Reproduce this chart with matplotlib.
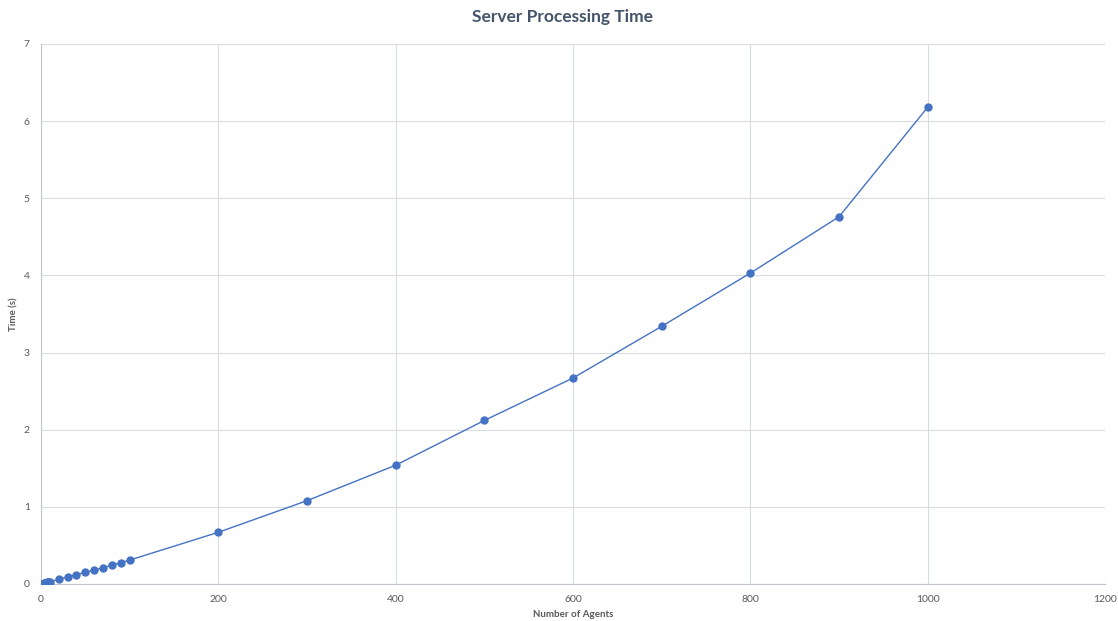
import matplotlib.pyplot as plt

plt.rcParams['font.family'] = ['Lato', 'DejaVu Sans']

# data
agents = [1, 2, 3, 4, 5, 6, 7, 8, 9, 10,
          20, 30, 40, 50, 60, 70, 80, 90, 100,
          200, 300, 400, 500, 600, 700, 800, 900, 1000]
times = [0.003, 0.006, 0.009, 0.012, 0.015, 0.018, 0.021, 0.024, 0.027, 0.03,
         0.06, 0.09, 0.12, 0.15, 0.18, 0.21, 0.245, 0.275, 0.31,
         0.67, 1.08, 1.54, 2.12, 2.67, 3.34, 4.03, 4.76, 6.18]

blue = "#4472C4"
grid_c = "#D9DDE3"
label_c = "#595959"

fig = plt.figure(figsize=(11.18, 6.21), dpi=100)
ax = fig.add_axes([0.0367, 0.0596, 0.9517, 0.8696])

ax.plot(agents, times, color=blue, linewidth=1.0, marker="o", markersize=5,
        markerfacecolor=blue, markeredgecolor=blue, zorder=3)

ax.set_xlim(0, 1200)
ax.set_ylim(0, 7)
ax.set_xticks(range(0, 1201, 200))
ax.set_yticks(range(0, 8))

ax.grid(True, color=grid_c, linewidth=0.8)
ax.set_axisbelow(True)
for side in ["top", "right"]:
    ax.spines[side].set_visible(False)
ax.spines["left"].set_color("#BFC5CE")
ax.spines["bottom"].set_color("#BFC5CE")
ax.tick_params(length=0, labelsize=7.5, labelcolor=label_c, pad=8)

fig.suptitle("Server Processing Time", x=0.503, y=0.985, fontsize=12.5,
             fontweight="bold", color="#44546A")
ax.set_xlabel("Number of Agents", fontsize=7, fontweight="bold", color=label_c, labelpad=4)
ax.set_ylabel("Time (s)", fontsize=7, fontweight="bold", color=label_c, labelpad=4)

fig.savefig("out.png", dpi=100)
